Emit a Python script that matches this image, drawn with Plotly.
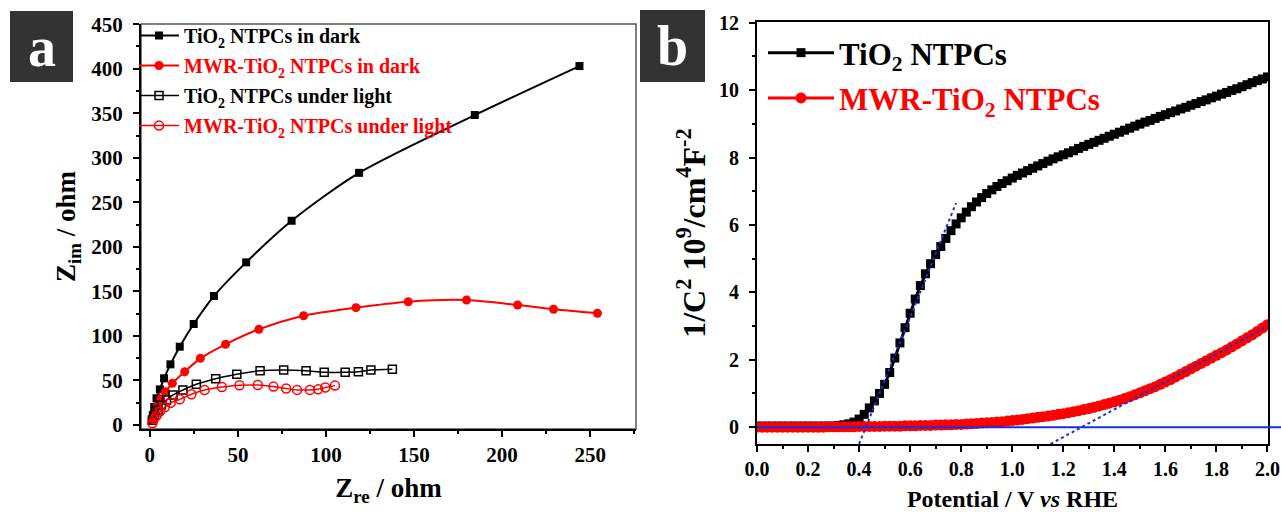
import plotly.graph_objects as go

# ---------------- Panel a : Nyquist plots ----------------
tio2_dark_x = [1.1, 1.7, 2.5, 3.8, 5.7, 8.1, 11.7, 17.0, 24.9, 36.4, 54.7, 80.5, 118.8, 184.5, 243.9]
tio2_dark_y = [4.5, 11.2, 20.2, 30.0, 40.0, 52.4, 68.1, 87.9, 113.4, 144.8, 182.6, 229.3, 283.1, 348.0, 403.0]

mwr_dark_x = [1.7, 2.8, 4.2, 6.2, 8.9, 12.8, 19.8, 28.7, 43.0, 61.9, 87.3, 117.0, 146.7, 179.8, 208.8, 229.2, 254.1]
mwr_dark_y = [5.6, 13.5, 21.3, 29.2, 37.4, 46.8, 59.8, 74.8, 90.6, 107.4, 122.7, 131.7, 138.4, 140.3, 134.7, 129.9, 125.4]

tio2_light_x = [1.5, 2.8, 4.7, 6.6, 9.5, 13.2, 18.8, 26.4, 37.4, 49.4, 62.6, 76.0, 88.7, 99.0, 110.9, 118.4, 125.5, 137.7]
tio2_light_y = [5.6, 11.2, 16.8, 22.4, 28.1, 33.7, 39.3, 45.7, 52.0, 56.9, 60.9, 61.7, 60.9, 59.1, 59.1, 59.8, 61.7, 62.5]

mwr_light_x = [1.5, 2.4, 3.8, 5.7, 8.5, 11.9, 17.0, 23.6, 31.1, 40.9, 50.9, 61.3, 70.2, 77.4, 83.6, 90.9, 95.6, 99.6, 105.1]
mwr_light_y = [1.9, 6.4, 10.4, 15.0, 19.9, 25.0, 28.8, 34.5, 39.3, 42.7, 44.6, 44.9, 43.1, 40.9, 39.4, 39.4, 40.2, 42.0, 44.2]

# ---------------- Panel b : Mott-Schottky ----------------
potential = [
    0.00, 0.02, 0.04, 0.06, 0.08, 0.10, 0.12, 0.14, 0.16, 0.18,
    0.20, 0.22, 0.24, 0.26, 0.28, 0.30, 0.32, 0.34, 0.36, 0.38,
    0.40, 0.42, 0.44, 0.46, 0.48, 0.50, 0.52, 0.54, 0.56, 0.58,
    0.60, 0.62, 0.64, 0.66, 0.68, 0.70, 0.72, 0.74, 0.76, 0.78,
    0.80, 0.82, 0.84, 0.86, 0.88, 0.90, 0.92, 0.94, 0.96, 0.98,
    1.00, 1.02, 1.04, 1.06, 1.08, 1.10, 1.12, 1.14, 1.16, 1.18,
    1.20, 1.22, 1.24, 1.26, 1.28, 1.30, 1.32, 1.34, 1.36, 1.38,
    1.40, 1.42, 1.44, 1.46, 1.48, 1.50, 1.52, 1.54, 1.56, 1.58,
    1.60, 1.62, 1.64, 1.66, 1.68, 1.70, 1.72, 1.74, 1.76, 1.78,
    1.80, 1.82, 1.84, 1.86, 1.88, 1.90, 1.92, 1.94, 1.96, 1.98,
    2.00,
]
tio2_ms = [
    0.03, 0.03, 0.03, 0.03, 0.03, 0.03, 0.03, 0.03, 0.03, 0.03,
    0.03, 0.03, 0.03, 0.03, 0.03, 0.03, 0.05, 0.07, 0.10, 0.15,
    0.24, 0.38, 0.57, 0.78, 1.00, 1.27, 1.62, 2.05, 2.50, 2.95,
    3.38, 3.80, 4.20, 4.55, 4.85, 5.12, 5.36, 5.60, 5.83, 6.03,
    6.21, 6.38, 6.54, 6.68, 6.81, 6.93, 7.04, 7.14, 7.23, 7.31,
    7.39, 7.47, 7.54, 7.61, 7.68, 7.75, 7.82, 7.89, 7.96, 8.02,
    8.08, 8.14, 8.20, 8.27, 8.33, 8.39, 8.45, 8.51, 8.57, 8.63,
    8.69, 8.75, 8.81, 8.87, 8.93, 8.99, 9.05, 9.10, 9.16, 9.22,
    9.27, 9.33, 9.38, 9.44, 9.49, 9.55, 9.60, 9.66, 9.71, 9.77,
    9.82, 9.88, 9.93, 9.99, 10.04, 10.10, 10.16, 10.22, 10.28, 10.33,
    10.39,
]
mwr_ms = [
    0.00, 0.00, 0.00, 0.00, 0.00, 0.00, 0.00, 0.00, 0.00, 0.00,
    0.00, 0.00, 0.00, 0.00, 0.01, 0.01, 0.01, 0.01, 0.01, 0.01,
    0.02, 0.02, 0.02, 0.02, 0.02, 0.03, 0.03, 0.03, 0.03, 0.04,
    0.04, 0.04, 0.05, 0.05, 0.05, 0.06, 0.06, 0.07, 0.07, 0.08,
    0.08, 0.09, 0.10, 0.11, 0.12, 0.13, 0.14, 0.15, 0.16, 0.18,
    0.20, 0.21, 0.23, 0.25, 0.27, 0.29, 0.31, 0.33, 0.35, 0.38,
    0.40, 0.43, 0.46, 0.49, 0.52, 0.55, 0.59, 0.63, 0.67, 0.71,
    0.75, 0.80, 0.85, 0.90, 0.96, 1.02, 1.08, 1.14, 1.20, 1.27,
    1.34, 1.41, 1.49, 1.57, 1.65, 1.73, 1.81, 1.89, 1.97, 2.05,
    2.13, 2.21, 2.29, 2.38, 2.47, 2.56, 2.65, 2.74, 2.84, 2.94,
    3.04,
]
fit1_x = [0.40, 0.78]
fit1_y = [-0.5, 6.65]
fit2_x = [1.15, 2.00]
fit2_y = [-0.5, 2.99]

W, H = 1281, 512
FONT = "Liberation Serif"

# plot-area pixel boxes
ax_a = dict(x0=141, x1=636, y0=24, y1=429)
ax_b = dict(x0=757, x1=1268, y0=22, y1=444)
xr_a, yr_a = [-5, 276], [-4.5, 450.2]
xr_b, yr_b = [0, 2.002], [-0.5, 12.02]

def dom_x(b):
    return [b["x0"] / W, b["x1"] / W]

def dom_y(b):
    return [1 - b["y1"] / H, 1 - b["y0"] / H]

RED = "#ff0000"
BLUE = "#1a2ee0"

def red(txt):
    return '<span style="color:#ff0000">' + txt + "</span>"

fig = go.Figure()

# ---- panel a traces
fig.add_trace(go.Scatter(x=tio2_dark_x, y=tio2_dark_y, mode="lines+markers",
                         name="TiO<sub>2</sub> NTPCs in dark", legendgroup="a1",
                         line=dict(color="black", width=2, shape="spline", smoothing=0.8),
                         marker=dict(symbol="square", size=8, color="black"),
                         xaxis="x", yaxis="y", legend="legend"))
fig.add_trace(go.Scatter(x=mwr_dark_x, y=mwr_dark_y, mode="lines+markers",
                         name=red("MWR-TiO<sub>2</sub> NTPCs in dark"), legendgroup="a2",
                         line=dict(color=RED, width=2, shape="spline", smoothing=0.8),
                         marker=dict(symbol="circle", size=9, color=RED),
                         xaxis="x", yaxis="y", legend="legend"))
fig.add_trace(go.Scatter(x=tio2_light_x, y=tio2_light_y, mode="lines+markers",
                         name="TiO<sub>2</sub> NTPCs under light", legendgroup="a3",
                         line=dict(color="black", width=1.5, shape="spline", smoothing=0.6),
                         marker=dict(symbol="square-open", size=8, color="black", line=dict(width=1.5)),
                         xaxis="x", yaxis="y", legend="legend"))
fig.add_trace(go.Scatter(x=mwr_light_x, y=mwr_light_y, mode="lines+markers",
                         name=red("MWR-TiO<sub>2</sub> NTPCs under light"), legendgroup="a4",
                         line=dict(color=RED, width=1.5, shape="spline", smoothing=0.6),
                         marker=dict(symbol="circle-open", size=9, color=RED, line=dict(width=1.5)),
                         xaxis="x", yaxis="y", legend="legend"))

# ---- panel b traces
fig.add_trace(go.Scatter(x=potential, y=tio2_ms, mode="lines+markers",
                         name="TiO<sub>2</sub> NTPCs", legendgroup="b1",
                         line=dict(color="black", width=3),
                         marker=dict(symbol="square", size=9, color="black"),
                         xaxis="x2", yaxis="y2", legend="legend2"))
fig.add_trace(go.Scatter(x=potential, y=mwr_ms, mode="lines+markers",
                         name=red("MWR-TiO<sub>2</sub> NTPCs"), legendgroup="b2",
                         line=dict(color=RED, width=3),
                         marker=dict(symbol="circle", size=11, color=RED),
                         xaxis="x2", yaxis="y2", legend="legend2"))
fig.add_trace(go.Scatter(x=fit1_x, y=fit1_y, mode="lines", showlegend=False,
                         line=dict(color=BLUE, width=2, dash="dot"),
                         xaxis="x2", yaxis="y2"))
fig.add_trace(go.Scatter(x=fit2_x, y=fit2_y, mode="lines", showlegend=False,
                         line=dict(color=BLUE, width=2, dash="dot"),
                         xaxis="x2", yaxis="y2"))

tickfont = dict(family=FONT, size=21, color="black", weight="bold")
tickfont_b = dict(family=FONT, size=20, color="black", weight="bold")

common = dict(ticks="outside", ticklen=6, tickwidth=2, tickcolor="black",
              showline=True, linecolor="black", linewidth=2,
              showgrid=False, zeroline=False, automargin=False)

fig.update_layout(
    width=W, height=H, autosize=False,
    margin=dict(l=0, r=0, t=0, b=0, pad=0, autoexpand=False),
    paper_bgcolor="white", plot_bgcolor="white",
    font=dict(family=FONT, color="black", weight="bold"),
    xaxis=dict(domain=dom_x(ax_a), range=xr_a, anchor="y", tick0=0, dtick=50,
               minor=dict(dtick=25, ticks="outside", ticklen=3, tickwidth=2, tickcolor="black"),
               tickfont=tickfont, ticklabelstandoff=0,
               title=dict(text="Z<sub>re</sub> / ohm", font=dict(family=FONT, size=27, weight="bold"), standoff=12),
               **common),
    yaxis=dict(domain=dom_y(ax_a), range=yr_a, anchor="x", tick0=0, dtick=50,
               minor=dict(dtick=25, ticks="outside", ticklen=3, tickwidth=2, tickcolor="black"),
               tickfont=tickfont, ticklabelstandoff=6,
               title=dict(text="Z<sub>im</sub> / ohm", font=dict(family=FONT, size=27, weight="bold"), standoff=8),
               **common),
    xaxis2=dict(domain=dom_x(ax_b), range=xr_b, anchor="y2", tick0=0, dtick=0.2, tickformat=".1f",
                minor=dict(dtick=0.1, ticks="outside", ticklen=3, tickwidth=2, tickcolor="black"),
                mirror=True, tickfont=tickfont_b, ticklabelstandoff=0,
                title=dict(text="Potential / V <i>vs</i> RHE", font=dict(family=FONT, size=24, weight="bold"), standoff=12),
                **common),
    yaxis2=dict(domain=dom_y(ax_b), range=yr_b, anchor="x2", tick0=0, dtick=2,
                minor=dict(dtick=1, ticks="outside", ticklen=3, tickwidth=2, tickcolor="black"),
                mirror=True, tickfont=tickfont_b, ticklabelstandoff=6,
                title=dict(text="1/C<sup>2</sup> 10<sup>9</sup>/cm<sup>4</sup>F<sup>-2</sup>",
                           font=dict(family=FONT, size=32, weight="bold"), standoff=4),
                **common),
    legend=dict(x=134 / W, y=1 - 16 / H, xanchor="left", yanchor="top",
                bgcolor="rgba(0,0,0,0)", borderwidth=0, tracegroupgap=1,
                itemwidth=40, traceorder="grouped",
                font=dict(family=FONT, size=20, weight="bold", color="black")),
    legend2=dict(x=763 / W, y=1 - 26 / H, xanchor="left", yanchor="top",
                 bgcolor="rgba(0,0,0,0)", borderwidth=0, tracegroupgap=2,
                 itemwidth=66, traceorder="grouped",
                 font=dict(family=FONT, size=31, weight="bold", color="black")),
    showlegend=True,
)

# gray frame on top/right of panel a
fig.add_shape(type="rect", xref="paper", yref="paper",
              x0=ax_a["x0"] / W, x1=ax_a["x1"] / W, y0=1 - ax_a["y1"] / H, y1=1 - ax_a["y0"] / H,
              line=dict(color="#555555", width=1.5), layer="below")

# blue zero line in panel b, running past the right axis
yb0, yb1 = dom_y(ax_b)
y_zero = yb0 + (0 - yr_b[0]) / (yr_b[1] - yr_b[0]) * (yb1 - yb0)
fig.add_shape(type="line", xref="paper", yref="paper", x0=ax_b["x0"] / W, x1=1.0,
              y0=y_zero, y1=y_zero, line=dict(color=BLUE, width=2), layer="above")

# panel letters
for (bx0, by0, bx1, by1, letter) in [(10, 11, 73, 82, "a"), (640, 10, 705, 82, "b")]:
    fig.add_shape(type="rect", xref="paper", yref="paper",
                  x0=bx0 / W, x1=bx1 / W, y0=1 - by1 / H, y1=1 - by0 / H,
                  fillcolor="#333333", line=dict(width=0))
    fig.add_annotation(x=(bx0 + bx1) / 2 / W, y=1 - (by0 + by1) / 2 / H, xref="paper", yref="paper",
                       text=letter, showarrow=False, xanchor="center", yanchor="middle",
                       font=dict(family=FONT, size=56, color="white", weight="bold"))

fig.write_html("out.html", config={"displayModeBar": False},
               post_script="document.body.style.margin='0';document.body.style.overflow='hidden';")
